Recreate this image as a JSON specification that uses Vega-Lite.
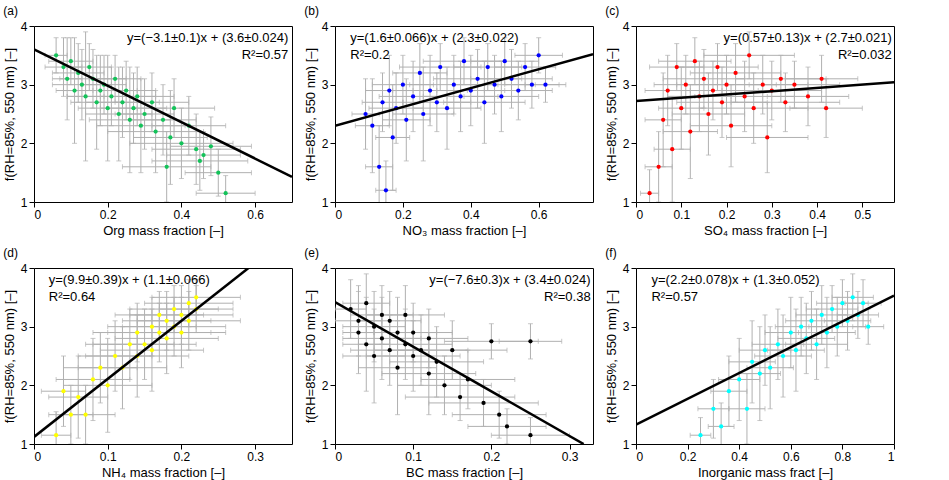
{
"$schema":"https://vega.github.io/schema/vega-lite/v6.json",
"padding":{"left":2,"top":4,"right":2,"bottom":2},
"spacing":8,
"config":{"concat":{"spacing":10},"view":{"stroke":"black"},"axis":{"grid":false,"domain":false,"labelFontSize":12,"titleFontSize":13,"titleFontWeight":"normal","tickColor":"black","labelColor":"black","titleColor":"black","labelFont":"Liberation Sans","titleFont":"Liberation Sans","titlePadding":4},"axisY":{"format":"~g"},"axisX":{"format":"~g"},"title":{"fontSize":12,"fontWeight":"normal","anchor":"start","frame":"bounds","offset":2,"font":"Liberation Sans"},"text":{"font":"Liberation Sans","fontSize":13}},
"datasets":{"pts":[
{"p":"a","x":0.06,"y":3.5,"ex":0.03,"ey":0.3},{"p":"a","x":0.08,"y":3.3,"ex":0.05,"ey":0.5},{"p":"a","x":0.09,"y":3.1,"ex":0.04,"ey":0.7},{"p":"a","x":0.1,"y":3.4,"ex":0.06,"ey":0.4},{"p":"a","x":0.11,"y":2.9,"ex":0.05,"ey":0.9},{"p":"a","x":0.12,"y":3.2,"ex":0.07,"ey":0.5},{"p":"a","x":0.13,"y":3.0,"ex":0.08,"ey":0.6},{"p":"a","x":0.14,"y":2.8,"ex":0.05,"ey":1.1},{"p":"a","x":0.15,"y":3.3,"ex":0.06,"ey":0.4},{"p":"a","x":0.16,"y":3.1,"ex":0.09,"ey":0.5},{"p":"a","x":0.17,"y":2.7,"ex":0.07,"ey":0.8},{"p":"a","x":0.18,"y":2.9,"ex":0.1,"ey":0.6},{"p":"a","x":0.19,"y":3.0,"ex":0.06,"ey":0.5},{"p":"a","x":0.2,"y":2.6,"ex":0.08,"ey":0.9},{"p":"a","x":0.21,"y":2.8,"ex":0.12,"ey":0.5},{"p":"a","x":0.22,"y":3.1,"ex":0.07,"ey":0.4},{"p":"a","x":0.23,"y":2.5,"ex":0.09,"ey":0.8},{"p":"a","x":0.24,"y":2.7,"ex":0.1,"ey":0.6},{"p":"a","x":0.25,"y":2.9,"ex":0.08,"ey":0.5},{"p":"a","x":0.26,"y":2.4,"ex":0.11,"ey":0.9},{"p":"a","x":0.27,"y":2.6,"ex":0.09,"ey":0.6},{"p":"a","x":0.28,"y":2.8,"ex":0.1,"ey":0.5},{"p":"a","x":0.29,"y":2.3,"ex":0.12,"ey":0.8},{"p":"a","x":0.3,"y":2.5,"ex":0.08,"ey":0.6},{"p":"a","x":0.32,"y":2.7,"ex":0.1,"ey":0.5},{"p":"a","x":0.33,"y":2.2,"ex":0.13,"ey":0.7},{"p":"a","x":0.35,"y":2.4,"ex":0.09,"ey":0.6},{"p":"a","x":0.36,"y":1.6,"ex":0.12,"ey":0.6},{"p":"a","x":0.37,"y":2.1,"ex":0.1,"ey":0.8},{"p":"a","x":0.38,"y":2.6,"ex":0.11,"ey":0.5},{"p":"a","x":0.4,"y":2.0,"ex":0.14,"ey":0.6},{"p":"a","x":0.42,"y":2.3,"ex":0.1,"ey":0.5},{"p":"a","x":0.44,"y":1.9,"ex":0.12,"ey":0.6},{"p":"a","x":0.45,"y":1.7,"ex":0.13,"ey":0.5},{"p":"a","x":0.46,"y":1.8,"ex":0.1,"ey":0.4},{"p":"a","x":0.48,"y":1.95,"ex":0.11,"ey":0.5},{"p":"a","x":0.5,"y":1.5,"ex":0.09,"ey":0.4},{"p":"a","x":0.52,"y":1.15,"ex":0.08,"ey":0.3},
{"p":"b","x":0.09,"y":2.5,"ex":0.04,"ey":0.6},{"p":"b","x":0.11,"y":2.3,"ex":0.05,"ey":0.8},{"p":"b","x":0.13,"y":1.6,"ex":0.04,"ey":0.7},{"p":"b","x":0.14,"y":2.7,"ex":0.06,"ey":0.5},{"p":"b","x":0.15,"y":1.2,"ex":0.03,"ey":0.5},{"p":"b","x":0.16,"y":2.9,"ex":0.07,"ey":0.6},{"p":"b","x":0.17,"y":2.1,"ex":0.05,"ey":0.9},{"p":"b","x":0.18,"y":2.6,"ex":0.08,"ey":0.6},{"p":"b","x":0.2,"y":3.0,"ex":0.09,"ey":0.5},{"p":"b","x":0.21,"y":2.4,"ex":0.07,"ey":0.7},{"p":"b","x":0.23,"y":2.8,"ex":0.1,"ey":0.6},{"p":"b","x":0.25,"y":3.2,"ex":0.08,"ey":0.5},{"p":"b","x":0.26,"y":2.5,"ex":0.09,"ey":0.8},{"p":"b","x":0.28,"y":2.9,"ex":0.11,"ey":0.6},{"p":"b","x":0.3,"y":2.7,"ex":0.1,"ey":0.5},{"p":"b","x":0.31,"y":3.3,"ex":0.12,"ey":0.4},{"p":"b","x":0.33,"y":2.6,"ex":0.1,"ey":0.7},{"p":"b","x":0.35,"y":3.0,"ex":0.13,"ey":0.5},{"p":"b","x":0.37,"y":2.8,"ex":0.11,"ey":0.6},{"p":"b","x":0.38,"y":3.4,"ex":0.12,"ey":0.4},{"p":"b","x":0.4,"y":2.9,"ex":0.1,"ey":0.6},{"p":"b","x":0.42,"y":3.1,"ex":0.13,"ey":0.5},{"p":"b","x":0.44,"y":2.7,"ex":0.12,"ey":0.7},{"p":"b","x":0.45,"y":3.3,"ex":0.1,"ey":0.4},{"p":"b","x":0.47,"y":3.0,"ex":0.12,"ey":0.5},{"p":"b","x":0.49,"y":2.8,"ex":0.11,"ey":0.6},{"p":"b","x":0.5,"y":3.4,"ex":0.1,"ey":0.4},{"p":"b","x":0.52,"y":3.1,"ex":0.12,"ey":0.5},{"p":"b","x":0.54,"y":2.9,"ex":0.1,"ey":0.5},{"p":"b","x":0.56,"y":3.3,"ex":0.09,"ey":0.4},{"p":"b","x":0.58,"y":3.0,"ex":0.08,"ey":0.4},{"p":"b","x":0.6,"y":3.5,"ex":0.07,"ey":0.3},{"p":"b","x":0.62,"y":3.0,"ex":0.06,"ey":0.3},
{"p":"c","x":0.03,"y":1.15,"ex":0.02,"ey":0.4},{"p":"c","x":0.05,"y":1.6,"ex":0.03,"ey":0.6},{"p":"c","x":0.06,"y":2.4,"ex":0.04,"ey":0.8},{"p":"c","x":0.07,"y":2.9,"ex":0.05,"ey":0.6},{"p":"c","x":0.08,"y":1.9,"ex":0.04,"ey":0.9},{"p":"c","x":0.09,"y":3.3,"ex":0.06,"ey":0.4},{"p":"c","x":0.1,"y":2.6,"ex":0.05,"ey":0.7},{"p":"c","x":0.11,"y":3.0,"ex":0.07,"ey":0.5},{"p":"c","x":0.12,"y":2.2,"ex":0.06,"ey":0.8},{"p":"c","x":0.13,"y":3.4,"ex":0.08,"ey":0.4},{"p":"c","x":0.14,"y":2.8,"ex":0.07,"ey":0.6},{"p":"c","x":0.15,"y":3.1,"ex":0.09,"ey":0.5},{"p":"c","x":0.16,"y":2.5,"ex":0.08,"ey":0.7},{"p":"c","x":0.17,"y":2.9,"ex":0.1,"ey":0.5},{"p":"c","x":0.18,"y":3.3,"ex":0.09,"ey":0.4},{"p":"c","x":0.19,"y":2.7,"ex":0.1,"ey":0.6},{"p":"c","x":0.2,"y":3.0,"ex":0.11,"ey":0.5},{"p":"c","x":0.21,"y":2.3,"ex":0.09,"ey":0.7},{"p":"c","x":0.22,"y":3.2,"ex":0.1,"ey":0.5},{"p":"c","x":0.24,"y":2.8,"ex":0.11,"ey":0.6},{"p":"c","x":0.25,"y":3.5,"ex":0.1,"ey":0.4},{"p":"c","x":0.26,"y":2.6,"ex":0.12,"ey":0.6},{"p":"c","x":0.28,"y":3.0,"ex":0.1,"ey":0.5},{"p":"c","x":0.29,"y":2.1,"ex":0.09,"ey":0.6},{"p":"c","x":0.3,"y":2.9,"ex":0.11,"ey":0.5},{"p":"c","x":0.32,"y":3.1,"ex":0.1,"ey":0.4},{"p":"c","x":0.33,"y":2.7,"ex":0.12,"ey":0.5},{"p":"c","x":0.35,"y":3.0,"ex":0.1,"ey":0.4},{"p":"c","x":0.38,"y":2.8,"ex":0.09,"ey":0.5},{"p":"c","x":0.41,"y":3.1,"ex":0.08,"ey":0.4},{"p":"c","x":0.42,"y":2.6,"ex":0.08,"ey":0.5},
{"p":"d","x":0.03,"y":1.15,"ex":0.02,"ey":0.4},{"p":"d","x":0.04,"y":1.9,"ex":0.03,"ey":0.6},{"p":"d","x":0.05,"y":1.5,"ex":0.03,"ey":0.5},{"p":"d","x":0.06,"y":1.8,"ex":0.04,"ey":0.7},{"p":"d","x":0.07,"y":1.5,"ex":0.04,"ey":0.5},{"p":"d","x":0.08,"y":2.1,"ex":0.05,"ey":0.7},{"p":"d","x":0.09,"y":2.3,"ex":0.05,"ey":0.6},{"p":"d","x":0.1,"y":2.0,"ex":0.06,"ey":0.8},{"p":"d","x":0.11,"y":2.5,"ex":0.05,"ey":0.6},{"p":"d","x":0.12,"y":2.3,"ex":0.06,"ey":0.7},{"p":"d","x":0.13,"y":2.7,"ex":0.06,"ey":0.6},{"p":"d","x":0.14,"y":2.5,"ex":0.07,"ey":0.7},{"p":"d","x":0.14,"y":2.9,"ex":0.06,"ey":0.5},{"p":"d","x":0.15,"y":2.7,"ex":0.07,"ey":0.6},{"p":"d","x":0.16,"y":3.0,"ex":0.06,"ey":0.5},{"p":"d","x":0.16,"y":2.6,"ex":0.07,"ey":0.7},{"p":"d","x":0.17,"y":2.9,"ex":0.07,"ey":0.5},{"p":"d","x":0.17,"y":3.2,"ex":0.06,"ey":0.4},{"p":"d","x":0.18,"y":2.8,"ex":0.07,"ey":0.6},{"p":"d","x":0.18,"y":3.1,"ex":0.06,"ey":0.5},{"p":"d","x":0.19,"y":3.0,"ex":0.07,"ey":0.5},{"p":"d","x":0.19,"y":3.3,"ex":0.06,"ey":0.4},{"p":"d","x":0.2,"y":3.2,"ex":0.07,"ey":0.5},{"p":"d","x":0.2,"y":2.9,"ex":0.06,"ey":0.6},{"p":"d","x":0.21,"y":3.4,"ex":0.06,"ey":0.4},{"p":"d","x":0.21,"y":3.1,"ex":0.07,"ey":0.5},{"p":"d","x":0.22,"y":3.5,"ex":0.06,"ey":0.3},{"p":"d","x":0.22,"y":3.3,"ex":0.05,"ey":0.4},
{"p":"e","x":0.02,"y":3.3,"ex":0.02,"ey":0.5},{"p":"e","x":0.03,"y":2.9,"ex":0.02,"ey":0.7},{"p":"e","x":0.03,"y":3.1,"ex":0.03,"ey":0.6},{"p":"e","x":0.04,"y":2.7,"ex":0.03,"ey":0.8},{"p":"e","x":0.04,"y":3.4,"ex":0.03,"ey":0.5},{"p":"e","x":0.05,"y":3.0,"ex":0.04,"ey":0.6},{"p":"e","x":0.05,"y":2.5,"ex":0.04,"ey":0.8},{"p":"e","x":0.06,"y":3.2,"ex":0.04,"ey":0.5},{"p":"e","x":0.06,"y":2.8,"ex":0.05,"ey":0.7},{"p":"e","x":0.07,"y":2.6,"ex":0.05,"ey":0.6},{"p":"e","x":0.07,"y":3.1,"ex":0.04,"ey":0.5},{"p":"e","x":0.08,"y":2.9,"ex":0.05,"ey":0.6},{"p":"e","x":0.08,"y":2.3,"ex":0.05,"ey":0.8},{"p":"e","x":0.09,"y":2.7,"ex":0.06,"ey":0.6},{"p":"e","x":0.09,"y":3.2,"ex":0.05,"ey":0.5},{"p":"e","x":0.1,"y":2.5,"ex":0.06,"ey":0.6},{"p":"e","x":0.1,"y":2.9,"ex":0.05,"ey":0.5},{"p":"e","x":0.11,"y":2.6,"ex":0.06,"ey":0.6},{"p":"e","x":0.12,"y":2.2,"ex":0.06,"ey":0.7},{"p":"e","x":0.12,"y":2.8,"ex":0.05,"ey":0.5},{"p":"e","x":0.13,"y":2.4,"ex":0.06,"ey":0.6},{"p":"e","x":0.14,"y":2.0,"ex":0.06,"ey":0.5},{"p":"e","x":0.15,"y":2.6,"ex":0.07,"ey":0.5},{"p":"e","x":0.16,"y":1.8,"ex":0.07,"ey":0.4},{"p":"e","x":0.17,"y":2.1,"ex":0.06,"ey":0.5},{"p":"e","x":0.19,"y":1.7,"ex":0.07,"ey":0.4},{"p":"e","x":0.2,"y":2.75,"ex":0.06,"ey":0.3},{"p":"e","x":0.21,"y":1.5,"ex":0.06,"ey":0.4},{"p":"e","x":0.22,"y":1.3,"ex":0.05,"ey":0.3},{"p":"e","x":0.25,"y":1.15,"ex":0.05,"ey":0.3},{"p":"e","x":0.25,"y":2.75,"ex":0.04,"ey":0.3},
{"p":"f","x":0.25,"y":1.15,"ex":0.04,"ey":0.3},{"p":"f","x":0.3,"y":1.6,"ex":0.06,"ey":0.5},{"p":"f","x":0.33,"y":1.3,"ex":0.05,"ey":0.4},{"p":"f","x":0.36,"y":1.9,"ex":0.07,"ey":0.6},{"p":"f","x":0.4,"y":2.1,"ex":0.08,"ey":0.7},{"p":"f","x":0.43,"y":1.6,"ex":0.07,"ey":0.6},{"p":"f","x":0.45,"y":2.4,"ex":0.09,"ey":0.7},{"p":"f","x":0.48,"y":2.2,"ex":0.08,"ey":0.8},{"p":"f","x":0.5,"y":2.6,"ex":0.1,"ey":0.6},{"p":"f","x":0.52,"y":2.3,"ex":0.09,"ey":0.7},{"p":"f","x":0.55,"y":2.7,"ex":0.1,"ey":0.6},{"p":"f","x":0.57,"y":2.5,"ex":0.11,"ey":0.7},{"p":"f","x":0.6,"y":2.9,"ex":0.1,"ey":0.6},{"p":"f","x":0.62,"y":2.6,"ex":0.11,"ey":0.7},{"p":"f","x":0.64,"y":3.0,"ex":0.1,"ey":0.5},{"p":"f","x":0.66,"y":2.8,"ex":0.11,"ey":0.6},{"p":"f","x":0.68,"y":3.1,"ex":0.1,"ey":0.5},{"p":"f","x":0.7,"y":2.7,"ex":0.12,"ey":0.6},{"p":"f","x":0.72,"y":3.2,"ex":0.1,"ey":0.5},{"p":"f","x":0.74,"y":2.9,"ex":0.11,"ey":0.6},{"p":"f","x":0.76,"y":3.3,"ex":0.1,"ey":0.4},{"p":"f","x":0.78,"y":3.0,"ex":0.11,"ey":0.5},{"p":"f","x":0.8,"y":3.4,"ex":0.1,"ey":0.4},{"p":"f","x":0.82,"y":3.1,"ex":0.09,"ey":0.5},{"p":"f","x":0.84,"y":3.5,"ex":0.08,"ey":0.4},{"p":"f","x":0.86,"y":3.2,"ex":0.08,"ey":0.4},{"p":"f","x":0.88,"y":3.4,"ex":0.07,"ey":0.4},{"p":"f","x":0.9,"y":3.0,"ex":0.06,"ey":0.3}
]},
"vconcat":[
{"hconcat":[
{"width":258,"height":176,"title":"(a)","layer":[
{"data":{"name":"pts"},"transform":[{"filter":"datum.p=='a'"}],"mark":{"type":"errorbar","ticks":{"size":5},"color":"#b0b0b0","clip":true},"encoding":{"x":{"field":"x","type":"quantitative","scale":{"domain":[0,0.7],"nice":false},"axis":{"values":[0,0.2,0.4,0.6]},"title":"Org mass fraction [–]"},"xError":{"field":"ex"},"y":{"field":"y","type":"quantitative","scale":{"domain":[1,4],"nice":false},"axis":{"values":[1,1.5,2,2.5,3,3.5,4]},"title":"f(RH=85%, 550 nm) [–]"}}},
{"data":{"name":"pts"},"transform":[{"filter":"datum.p=='a'"}],"mark":{"type":"errorbar","ticks":{"size":5},"color":"#b0b0b0","clip":true},"encoding":{"x":{"field":"x","type":"quantitative","title":"Org mass fraction [–]"},"y":{"field":"y","type":"quantitative","title":"f(RH=85%, 550 nm) [–]"},"yError":{"field":"ey"}}},
{"data":{"name":"pts"},"transform":[{"filter":"datum.p=='a'"}],"mark":{"type":"circle","size":18,"opacity":1,"color":"#14c35a","clip":true},"encoding":{"x":{"field":"x","type":"quantitative","title":"Org mass fraction [–]"},"y":{"field":"y","type":"quantitative","title":"f(RH=85%, 550 nm) [–]"}}},
{"data":{"values":[{"x":0,"y":3.6},{"x":0.7,"y":1.43}]},"mark":{"type":"line","color":"black","strokeWidth":2.5,"clip":true},"encoding":{"x":{"field":"x","type":"quantitative","title":"Org mass fraction [–]"},"y":{"field":"y","type":"quantitative","title":"f(RH=85%, 550 nm) [–]"}}},
{"data":{"values":[{"x":0.69,"y":3.8,"t":"y=(−3.1±0.1)x + (3.6±0.024)"},{"x":0.69,"y":3.5,"t":"R²=0.57"}]},"mark":{"type":"text","align":"right"},"encoding":{"x":{"field":"x","type":"quantitative","title":"Org mass fraction [–]"},"y":{"field":"y","type":"quantitative","title":"f(RH=85%, 550 nm) [–]"},"text":{"field":"t"}}}
]},
{"width":258,"height":176,"title":"(b)","layer":[
{"data":{"name":"pts"},"transform":[{"filter":"datum.p=='b'"}],"mark":{"type":"errorbar","ticks":{"size":5},"color":"#b0b0b0","clip":true},"encoding":{"x":{"field":"x","type":"quantitative","scale":{"domain":[0,0.76],"nice":false},"axis":{"values":[0,0.2,0.4,0.6]},"title":"NO₃ mass fraction [–]"},"xError":{"field":"ex"},"y":{"field":"y","type":"quantitative","scale":{"domain":[1,4],"nice":false},"axis":{"values":[1,1.5,2,2.5,3,3.5,4]},"title":"f(RH=85%, 550 nm) [–]"}}},
{"data":{"name":"pts"},"transform":[{"filter":"datum.p=='b'"}],"mark":{"type":"errorbar","ticks":{"size":5},"color":"#b0b0b0","clip":true},"encoding":{"x":{"field":"x","type":"quantitative","title":"NO₃ mass fraction [–]"},"y":{"field":"y","type":"quantitative","title":"f(RH=85%, 550 nm) [–]"},"yError":{"field":"ey"}}},
{"data":{"name":"pts"},"transform":[{"filter":"datum.p=='b'"}],"mark":{"type":"circle","size":18,"opacity":1,"color":"#0000ff","clip":true},"encoding":{"x":{"field":"x","type":"quantitative","title":"NO₃ mass fraction [–]"},"y":{"field":"y","type":"quantitative","title":"f(RH=85%, 550 nm) [–]"}}},
{"data":{"values":[{"x":0,"y":2.3},{"x":0.76,"y":3.52}]},"mark":{"type":"line","color":"black","strokeWidth":2.5,"clip":true},"encoding":{"x":{"field":"x","type":"quantitative","title":"NO₃ mass fraction [–]"},"y":{"field":"y","type":"quantitative","title":"f(RH=85%, 550 nm) [–]"}}},
{"data":{"values":[{"x":0.045,"y":3.8,"t":"y=(1.6±0.066)x + (2.3±0.022)"},{"x":0.045,"y":3.5,"t":"R²=0.2"}]},"mark":{"type":"text","align":"left"},"encoding":{"x":{"field":"x","type":"quantitative","title":"NO₃ mass fraction [–]"},"y":{"field":"y","type":"quantitative","title":"f(RH=85%, 550 nm) [–]"},"text":{"field":"t"}}}
]},
{"width":258,"height":176,"title":"(c)","layer":[
{"data":{"name":"pts"},"transform":[{"filter":"datum.p=='c'"}],"mark":{"type":"errorbar","ticks":{"size":5},"color":"#b0b0b0","clip":true},"encoding":{"x":{"field":"x","type":"quantitative","scale":{"domain":[0,0.57],"nice":false},"axis":{"values":[0,0.1,0.2,0.3,0.4,0.5]},"title":"SO₄ mass fraction [–]"},"xError":{"field":"ex"},"y":{"field":"y","type":"quantitative","scale":{"domain":[1,4],"nice":false},"axis":{"values":[1,1.5,2,2.5,3,3.5,4]},"title":"f(RH=85%, 550 nm) [–]"}}},
{"data":{"name":"pts"},"transform":[{"filter":"datum.p=='c'"}],"mark":{"type":"errorbar","ticks":{"size":5},"color":"#b0b0b0","clip":true},"encoding":{"x":{"field":"x","type":"quantitative","title":"SO₄ mass fraction [–]"},"y":{"field":"y","type":"quantitative","title":"f(RH=85%, 550 nm) [–]"},"yError":{"field":"ey"}}},
{"data":{"name":"pts"},"transform":[{"filter":"datum.p=='c'"}],"mark":{"type":"circle","size":18,"opacity":1,"color":"#ff0000","clip":true},"encoding":{"x":{"field":"x","type":"quantitative","title":"SO₄ mass fraction [–]"},"y":{"field":"y","type":"quantitative","title":"f(RH=85%, 550 nm) [–]"}}},
{"data":{"values":[{"x":0,"y":2.72},{"x":0.57,"y":3.04}]},"mark":{"type":"line","color":"black","strokeWidth":2.5,"clip":true},"encoding":{"x":{"field":"x","type":"quantitative","title":"SO₄ mass fraction [–]"},"y":{"field":"y","type":"quantitative","title":"f(RH=85%, 550 nm) [–]"}}},
{"data":{"values":[{"x":0.565,"y":3.8,"t":"y=(0.57±0.13)x + (2.7±0.021)"},{"x":0.565,"y":3.5,"t":"R²=0.032"}]},"mark":{"type":"text","align":"right"},"encoding":{"x":{"field":"x","type":"quantitative","title":"SO₄ mass fraction [–]"},"y":{"field":"y","type":"quantitative","title":"f(RH=85%, 550 nm) [–]"},"text":{"field":"t"}}}
]}
]},
{"hconcat":[
{"width":258,"height":176,"title":"(d)","layer":[
{"data":{"name":"pts"},"transform":[{"filter":"datum.p=='d'"}],"mark":{"type":"errorbar","ticks":{"size":5},"color":"#b0b0b0","clip":true},"encoding":{"x":{"field":"x","type":"quantitative","scale":{"domain":[0,0.35],"nice":false},"axis":{"values":[0,0.1,0.2,0.3]},"title":"NH₄ mass fraction [–]"},"xError":{"field":"ex"},"y":{"field":"y","type":"quantitative","scale":{"domain":[1,4],"nice":false},"axis":{"values":[1,1.5,2,2.5,3,3.5,4]},"title":"f(RH=85%, 550 nm) [–]"}}},
{"data":{"name":"pts"},"transform":[{"filter":"datum.p=='d'"}],"mark":{"type":"errorbar","ticks":{"size":5},"color":"#b0b0b0","clip":true},"encoding":{"x":{"field":"x","type":"quantitative","title":"NH₄ mass fraction [–]"},"y":{"field":"y","type":"quantitative","title":"f(RH=85%, 550 nm) [–]"},"yError":{"field":"ey"}}},
{"data":{"name":"pts"},"transform":[{"filter":"datum.p=='d'"}],"mark":{"type":"circle","size":18,"opacity":1,"color":"#ffff00","clip":true},"encoding":{"x":{"field":"x","type":"quantitative","title":"NH₄ mass fraction [–]"},"y":{"field":"y","type":"quantitative","title":"f(RH=85%, 550 nm) [–]"}}},
{"data":{"values":[{"x":0,"y":1.12},{"x":0.291,"y":4}]},"mark":{"type":"line","color":"black","strokeWidth":2.5,"clip":true},"encoding":{"x":{"field":"x","type":"quantitative","title":"NH₄ mass fraction [–]"},"y":{"field":"y","type":"quantitative","title":"f(RH=85%, 550 nm) [–]"}}},
{"data":{"values":[{"x":0.02,"y":3.8,"t":"y=(9.9±0.39)x + (1.1±0.066)"},{"x":0.02,"y":3.5,"t":"R²=0.64"}]},"mark":{"type":"text","align":"left"},"encoding":{"x":{"field":"x","type":"quantitative","title":"NH₄ mass fraction [–]"},"y":{"field":"y","type":"quantitative","title":"f(RH=85%, 550 nm) [–]"},"text":{"field":"t"}}}
]},
{"width":258,"height":176,"title":"(e)","layer":[
{"data":{"name":"pts"},"transform":[{"filter":"datum.p=='e'"}],"mark":{"type":"errorbar","ticks":{"size":5},"color":"#b0b0b0","clip":true},"encoding":{"x":{"field":"x","type":"quantitative","scale":{"domain":[0,0.33],"nice":false},"axis":{"values":[0,0.1,0.2,0.3]},"title":"BC mass fraction [–]"},"xError":{"field":"ex"},"y":{"field":"y","type":"quantitative","scale":{"domain":[1,4],"nice":false},"axis":{"values":[1,1.5,2,2.5,3,3.5,4]},"title":"f(RH=85%, 550 nm) [–]"}}},
{"data":{"name":"pts"},"transform":[{"filter":"datum.p=='e'"}],"mark":{"type":"errorbar","ticks":{"size":5},"color":"#b0b0b0","clip":true},"encoding":{"x":{"field":"x","type":"quantitative","title":"BC mass fraction [–]"},"y":{"field":"y","type":"quantitative","title":"f(RH=85%, 550 nm) [–]"},"yError":{"field":"ey"}}},
{"data":{"name":"pts"},"transform":[{"filter":"datum.p=='e'"}],"mark":{"type":"circle","size":18,"opacity":1,"color":"#000000","clip":true},"encoding":{"x":{"field":"x","type":"quantitative","title":"BC mass fraction [–]"},"y":{"field":"y","type":"quantitative","title":"f(RH=85%, 550 nm) [–]"}}},
{"data":{"values":[{"x":0,"y":3.42},{"x":0.318,"y":1}]},"mark":{"type":"line","color":"black","strokeWidth":2.5,"clip":true},"encoding":{"x":{"field":"x","type":"quantitative","title":"BC mass fraction [–]"},"y":{"field":"y","type":"quantitative","title":"f(RH=85%, 550 nm) [–]"}}},
{"data":{"values":[{"x":0.327,"y":3.8,"t":"y=(−7.6±0.3)x + (3.4±0.024)"},{"x":0.327,"y":3.5,"t":"R²=0.38"}]},"mark":{"type":"text","align":"right"},"encoding":{"x":{"field":"x","type":"quantitative","title":"BC mass fraction [–]"},"y":{"field":"y","type":"quantitative","title":"f(RH=85%, 550 nm) [–]"},"text":{"field":"t"}}}
]},
{"width":258,"height":176,"title":"(f)","layer":[
{"data":{"name":"pts"},"transform":[{"filter":"datum.p=='f'"}],"mark":{"type":"errorbar","ticks":{"size":5},"color":"#b0b0b0","clip":true},"encoding":{"x":{"field":"x","type":"quantitative","scale":{"domain":[0,1],"nice":false},"axis":{"values":[0,0.2,0.4,0.6,0.8,1]},"title":"Inorganic mass fract [–]"},"xError":{"field":"ex"},"y":{"field":"y","type":"quantitative","scale":{"domain":[1,4],"nice":false},"axis":{"values":[1,1.5,2,2.5,3,3.5,4]},"title":"f(RH=85%, 550 nm) [–]"}}},
{"data":{"name":"pts"},"transform":[{"filter":"datum.p=='f'"}],"mark":{"type":"errorbar","ticks":{"size":5},"color":"#b0b0b0","clip":true},"encoding":{"x":{"field":"x","type":"quantitative","title":"Inorganic mass fract [–]"},"y":{"field":"y","type":"quantitative","title":"f(RH=85%, 550 nm) [–]"},"yError":{"field":"ey"}}},
{"data":{"name":"pts"},"transform":[{"filter":"datum.p=='f'"}],"mark":{"type":"circle","size":18,"opacity":1,"color":"#00ffff","clip":true},"encoding":{"x":{"field":"x","type":"quantitative","title":"Inorganic mass fract [–]"},"y":{"field":"y","type":"quantitative","title":"f(RH=85%, 550 nm) [–]"}}},
{"data":{"values":[{"x":0,"y":1.33},{"x":1,"y":3.53}]},"mark":{"type":"line","color":"black","strokeWidth":2.5,"clip":true},"encoding":{"x":{"field":"x","type":"quantitative","title":"Inorganic mass fract [–]"},"y":{"field":"y","type":"quantitative","title":"f(RH=85%, 550 nm) [–]"}}},
{"data":{"values":[{"x":0.06,"y":3.8,"t":"y=(2.2±0.078)x + (1.3±0.052)"},{"x":0.06,"y":3.5,"t":"R²=0.57"}]},"mark":{"type":"text","align":"left"},"encoding":{"x":{"field":"x","type":"quantitative","title":"Inorganic mass fract [–]"},"y":{"field":"y","type":"quantitative","title":"f(RH=85%, 550 nm) [–]"},"text":{"field":"t"}}}
]}
]}
]}
